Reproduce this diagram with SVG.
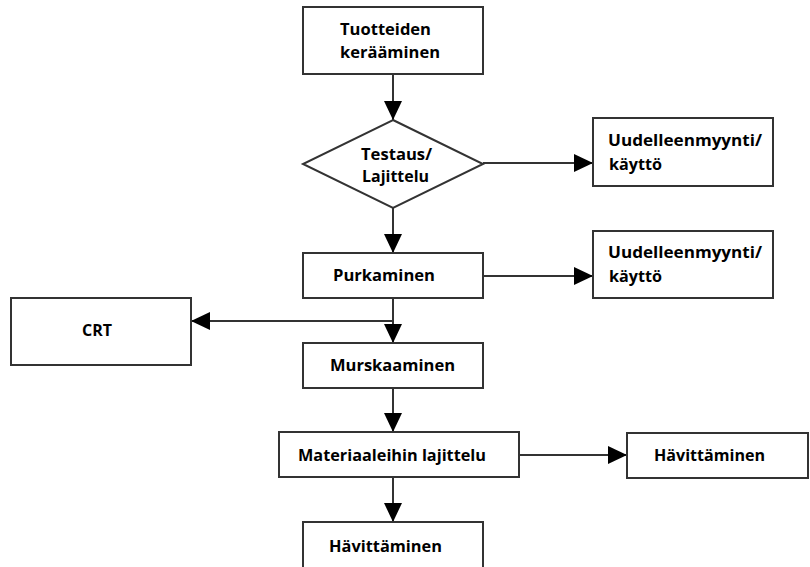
<svg xmlns="http://www.w3.org/2000/svg" width="810" height="567" viewBox="0 0 810 567">
<defs>
<marker id="ah" viewBox="0 0 19 18" markerWidth="19" markerHeight="18" refX="19" refY="9" orient="auto" markerUnits="userSpaceOnUse">
<path d="M0,0 L19,9 L0,18 Z" fill="#000"/>
</marker>
<style>
.box{fill:#fff;stroke:#333;stroke-width:2}
.t{font-family:"Open Sans","Noto Sans","Liberation Sans",sans-serif;font-weight:bold;font-size:16.5px;fill:#000}
.ln{fill:none;stroke:#333;stroke-width:2}
</style>
</defs>
<rect width="810" height="567" fill="#fff"/>
<g id="connectors">
<path class="ln" d="M393,74 V120" marker-end="url(#ah)"/>
<path class="ln" d="M483,163 H593" marker-end="url(#ah)"/>
<path class="ln" d="M393,208 V253" marker-end="url(#ah)"/>
<path class="ln" d="M483,276 H593" marker-end="url(#ah)"/>
<path class="ln" d="M393,298 V343" marker-end="url(#ah)"/>
<path class="ln" d="M393,321 H191" marker-end="url(#ah)"/>
<path class="ln" d="M393,388 V432" marker-end="url(#ah)"/>
<path class="ln" d="M519,455 H627" marker-end="url(#ah)"/>
<path class="ln" d="M393,477 V522" marker-end="url(#ah)"/>
</g>
<g id="n1"><rect class="box" x="303" y="7" width="180" height="67"/>
<text class="t" x="340" y="35" textLength="91" lengthAdjust="spacingAndGlyphs">Tuotteiden</text><text class="t" x="340" y="58" textLength="100" lengthAdjust="spacingAndGlyphs">kerääminen</text></g>
<g id="n2"><path class="box" d="M393,120 L483,164 L393,208 L303,164 Z"/>
<text class="t" x="361" y="160" textLength="71" lengthAdjust="spacingAndGlyphs">Testaus/</text><text class="t" x="362" y="182" textLength="67" lengthAdjust="spacingAndGlyphs">Lajittelu</text></g>
<g id="n3"><rect class="box" x="593" y="118" width="180" height="68"/>
<text class="t" x="608" y="146" textLength="154" lengthAdjust="spacingAndGlyphs">Uudelleenmyynti/</text><text class="t" x="609" y="170" textLength="53" lengthAdjust="spacingAndGlyphs">käyttö</text></g>
<g id="n4"><rect class="box" x="303" y="253" width="180" height="45"/>
<text class="t" x="333" y="281" textLength="102" lengthAdjust="spacingAndGlyphs">Purkaminen</text></g>
<g id="n5"><rect class="box" x="593" y="231" width="180" height="67"/>
<text class="t" x="608" y="258" textLength="154" lengthAdjust="spacingAndGlyphs">Uudelleenmyynti/</text><text class="t" x="609" y="282" textLength="53" lengthAdjust="spacingAndGlyphs">käyttö</text></g>
<g id="n6"><rect class="box" x="11" y="298" width="180" height="67"/>
<text class="t" x="82" y="336" textLength="30" lengthAdjust="spacingAndGlyphs">CRT</text></g>
<g id="n7"><rect class="box" x="303" y="343" width="180" height="45"/>
<text class="t" x="330" y="371" textLength="125" lengthAdjust="spacingAndGlyphs">Murskaaminen</text></g>
<g id="n8"><rect class="box" x="279" y="432" width="240" height="45"/>
<text class="t" x="298" y="461" textLength="188" lengthAdjust="spacingAndGlyphs">Materiaaleihin lajittelu</text></g>
<g id="n9"><rect class="box" x="627" y="433" width="181" height="45"/>
<text class="t" x="654" y="461" textLength="111" lengthAdjust="spacingAndGlyphs">Hävittäminen</text></g>
<g id="n10"><rect class="box" x="303" y="522" width="180" height="50"/>
<text class="t" x="329" y="552" textLength="113" lengthAdjust="spacingAndGlyphs">Hävittäminen</text></g>
</svg>
